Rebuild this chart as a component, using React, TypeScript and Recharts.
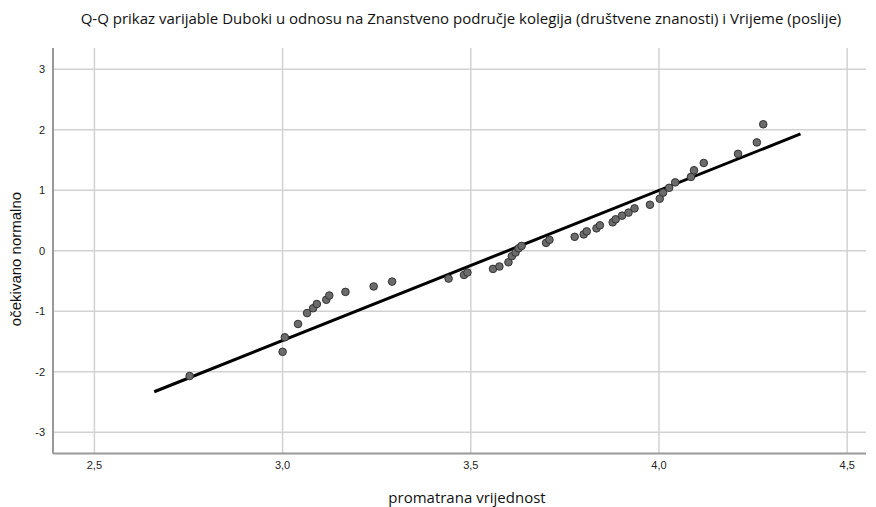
import { ScatterChart, Scatter, XAxis, YAxis, CartesianGrid } from 'recharts';

// observed values (x) and expected normal (y)
const observed = [
  2.753, 3.0, 3.006, 3.041, 3.065, 3.081, 3.091, 3.116, 3.124, 3.167, 3.242, 3.291,
  3.441, 3.482, 3.491, 3.559, 3.576, 3.6, 3.609, 3.619, 3.627, 3.635, 3.7, 3.709,
  3.776, 3.8, 3.808, 3.834, 3.843, 3.877, 3.885, 3.902, 3.919, 3.935, 3.976, 4.002,
  4.011, 4.027, 4.043, 4.085, 4.093, 4.119, 4.21, 4.26, 4.277,
];
const expected = [
  -2.07, -1.67, -1.43, -1.21, -1.03, -0.95, -0.88, -0.81, -0.74, -0.68, -0.59, -0.51,
  -0.46, -0.4, -0.36, -0.3, -0.26, -0.19, -0.09, -0.03, 0.04, 0.08, 0.13, 0.18,
  0.23, 0.27, 0.32, 0.37, 0.42, 0.47, 0.52, 0.58, 0.63, 0.7, 0.76, 0.86,
  0.96, 1.04, 1.13, 1.22, 1.33, 1.45, 1.6, 1.79, 2.09,
];

// reference line end points
const lineX = [2.659, 4.376];
const lineY = [-2.33, 1.93];

const xTicks = [2.5, 3.0, 3.5, 4.0, 4.5];
const yTicks = [-3, -2, -1, 0, 1, 2, 3];

const points = observed.map((x, i) => ({ x, y: expected[i] }));
const lineData = lineX.map((x, i) => ({ x, y: lineY[i] }));

const Dot = (props: any) => (
  <circle cx={props.cx} cy={props.cy} r={3.8} fill="#6b6b6b" stroke="#333" strokeWidth={1} />
);

export default function App() {
  return (
    <div style={{ position: 'absolute', left: 0, top: 0, width: 876, height: 507, background: '#fff' }}>
      <div
        style={{
          position: 'absolute', left: 461, top: 18, transform: 'translate(-50%, -50%)', whiteSpace: 'nowrap',
          fontFamily: '"Open Sans", sans-serif', fontSize: 15, color: '#111',
        }}
      >
        Q-Q prikaz varijable Duboki u odnosu na Znanstveno područje kolegija (društvene znanosti) i Vrijeme (poslije)
      </div>
      <div
        style={{
          position: 'absolute', left: 15, top: 259, transform: 'translate(-50%, -50%) rotate(-90deg)',
          whiteSpace: 'nowrap', fontFamily: '"Liberation Sans", Arial, sans-serif', fontSize: 15, color: '#111',
        }}
      >
        očekivano normalno
      </div>
      <div
        style={{
          position: 'absolute', left: 467, top: 497, transform: 'translate(-50%, -50%)', whiteSpace: 'nowrap',
          fontFamily: '"Open Sans", sans-serif', fontSize: 15, lineHeight: '16px', color: '#111',
        }}
      >
        promatrana vrijednost
      </div>
      <ScatterChart width={876} height={507} margin={{ top: 48, right: 10, bottom: 0, left: 0 }}>
        <CartesianGrid stroke="#d2d2d2" strokeWidth={1.5} verticalValues={xTicks} horizontalValues={yTicks} />
        <XAxis
          type="number"
          dataKey="x"
          domain={[2.39, 4.55]}
          ticks={xTicks}
          allowDataOverflow
          height={53.5}
          tickLine={false}
          axisLine={{ stroke: '#999', strokeWidth: 2 }}
          tick={{ fill: '#222', fontSize: 11, fontFamily: 'Liberation Sans, sans-serif' }}
          tickFormatter={(v: number) => v.toFixed(1).replace('.', ',')}
        />
        <YAxis
          type="number"
          dataKey="y"
          domain={[-3.35, 3.35]}
          ticks={yTicks}
          allowDataOverflow
          width={53}
          tickLine={false}
          axisLine={{ stroke: '#999', strokeWidth: 2 }}
          tick={{ fill: '#222', fontSize: 11, fontFamily: 'Liberation Sans, sans-serif' }}
        />
        <Scatter
          data={lineData}
          line={{ stroke: '#000', strokeWidth: 3 }}
          shape={() => null}
          isAnimationActive={false}
        />
        <Scatter data={points} shape={Dot} isAnimationActive={false} />
      </ScatterChart>
    </div>
  );
}
